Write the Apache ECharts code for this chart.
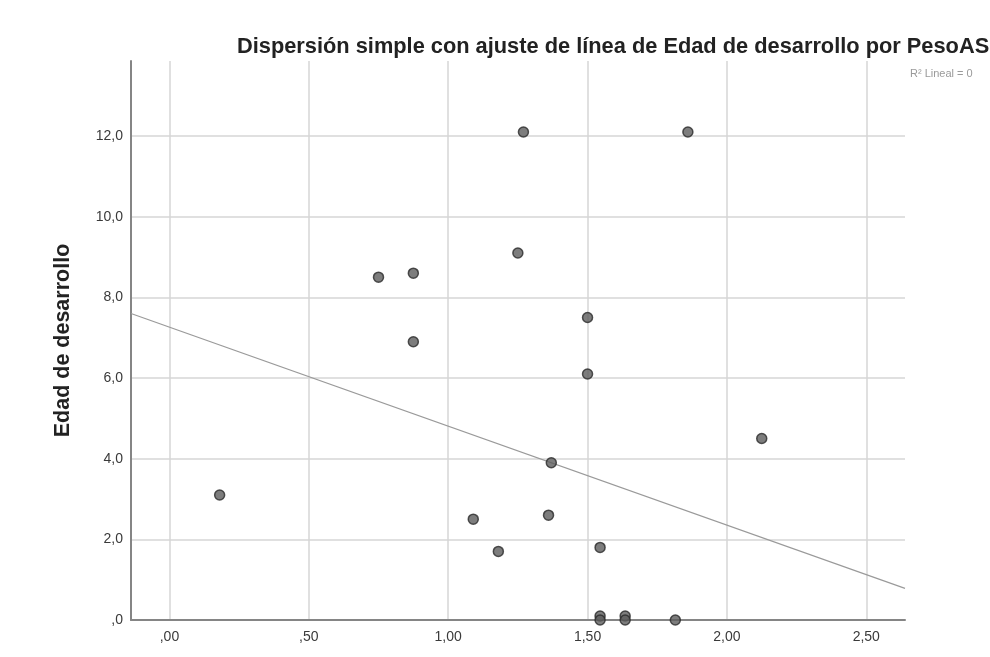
<!DOCTYPE html>
<html><head><meta charset="utf-8">
<script src="https://cdn.jsdelivr.net/npm/echarts@6/dist/echarts.min.js"></script>
<style>html,body{margin:0;padding:0;background:#fff}#c{width:990px;height:657px}</style>
</head><body><div id="c"></div>
<script>
// PesoAS (x) values
const pesoAS = [0.18, 0.75, 0.875, 0.875, 1.09, 1.18, 1.25, 1.27, 1.36, 1.37, 1.50, 1.50, 1.545, 1.545, 1.545, 1.635, 1.635, 1.815, 1.86, 2.125];
// Edad de desarrollo (y) values
const edad = [3.1, 8.5, 8.6, 6.9, 2.5, 1.7, 9.1, 12.1, 2.6, 3.9, 7.5, 6.1, 1.8, 0.1, 0.0, 0.1, 0.0, 0.0, 12.1, 4.5];
// fitted line
const fitIntercept = 7.26;
const fitSlope = -2.454;
// axis ticks
const xTicks = [0, 0.5, 1.0, 1.5, 2.0, 2.5];
const yTicks = [0, 2, 4, 6, 8, 10, 12];
const xRange = [-0.138, 2.639];
const yRange = [0, 13.86];

const pts = pesoAS.map((x, i) => [x, edad[i]]);
const fitLine = xRange.map(x => [x, fitIntercept + fitSlope * x]);

function fmt(v, d) {
  let s = v.toFixed(d).replace('.', ',');
  if (s.startsWith('0,')) s = s.slice(1);
  return s;
}
const FONT = '"Liberation Sans", Arial, sans-serif';
const chart = echarts.init(document.getElementById('c'));
chart.setOption({
  animation: false,
  title: {
    text: 'Dispersión simple con ajuste de línea de Edad de desarrollo por PesoAS',
    left: 232, top: 31,
    textStyle: { fontFamily: FONT, fontSize: 21.8, fontWeight: 'bold', color: '#222' }
  },
  graphic: [{
    type: 'text', left: 910, top: 68,
    style: { text: 'R² Lineal = 0', fill: '#9a9a9a', font: '11px ' + FONT }
  }],
  grid: { left: 131, right: 85, top: 61, bottom: 37 },
  xAxis: {
    type: 'value', min: xRange[0], max: xRange[1],
    axisLine: { show: true, onZero: false, lineStyle: { color: '#858585', width: 2 } },
    axisTick: { show: false, customValues: xTicks },
    axisLabel: { customValues: xTicks, formatter: v => fmt(v, 2), fontFamily: FONT, fontSize: 14, color: '#3a3a3a', margin: 10 },
    splitLine: { show: true, lineStyle: { color: '#d6d6d6', width: 1.5 } }
  },
  yAxis: {
    type: 'value', min: yRange[0], max: yRange[1],
    name: 'Edad de desarrollo', nameLocation: 'middle', nameGap: 57, nameRotate: 90,
    nameTextStyle: { fontFamily: FONT, fontSize: 21.5, fontWeight: 'bold', color: '#222' },
    axisLine: { show: true, onZero: false, lineStyle: { color: '#858585', width: 2 } },
    axisTick: { show: false, customValues: yTicks },
    axisLabel: { customValues: yTicks, formatter: v => fmt(v, 1), fontFamily: FONT, fontSize: 14, color: '#3a3a3a', margin: 8 },
    splitLine: { show: true, lineStyle: { color: '#d6d6d6', width: 1.5 } }
  },
  series: [
    {
      type: 'line', data: fitLine, symbol: 'none', silent: true,
      lineStyle: { color: '#9a9a9a', width: 1.2 }, z: 2
    },
    {
      type: 'scatter', data: pts, symbolSize: 10,
      itemStyle: { color: '#5c5c5c', borderColor: '#2a2a2a', borderWidth: 1.5 }, z: 3
    }
  ]
});
</script>
</body></html>
